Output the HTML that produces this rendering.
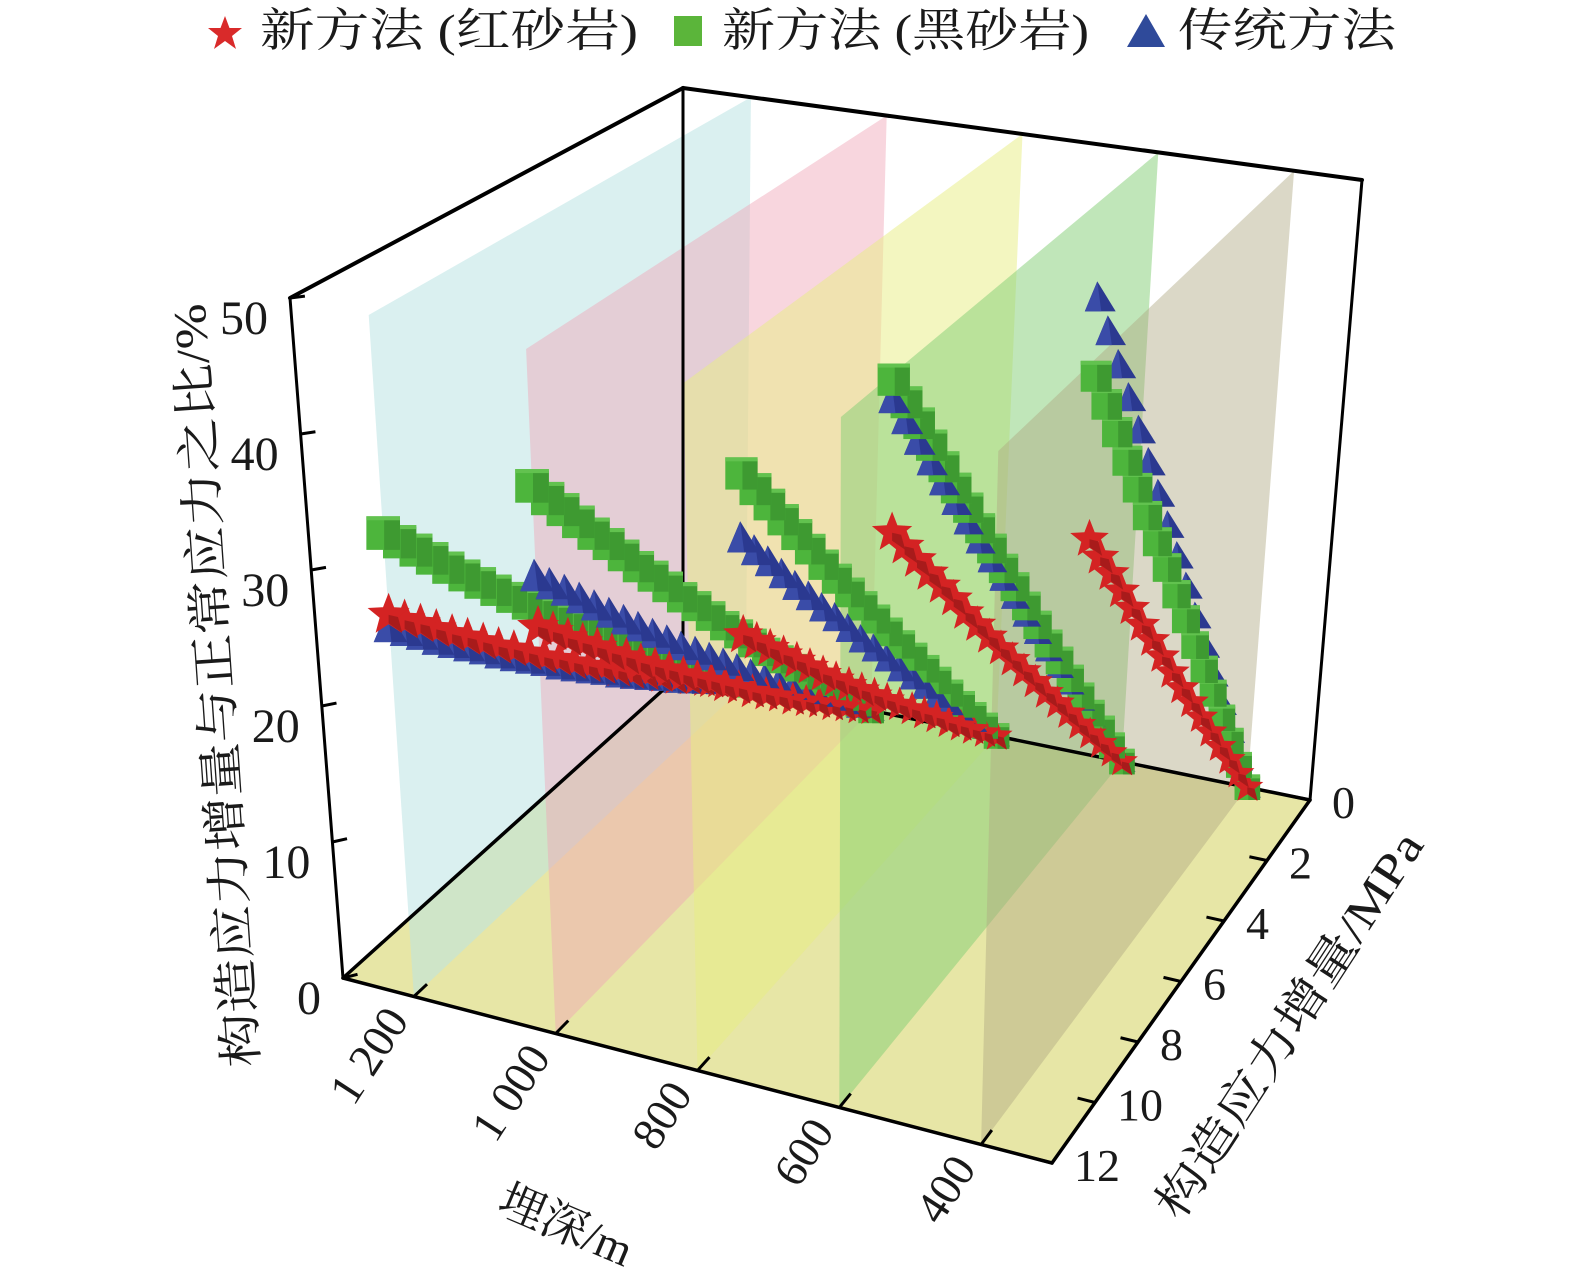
<!DOCTYPE html>
<html><head><meta charset="utf-8">
<style>
html,body{margin:0;padding:0;background:#fff;}
svg{display:block;}
text{font-family:"Liberation Serif","Noto Serif CJK SC",serif;fill:#1a1a1a;}
</style></head>
<body>
<svg id="chart" width="1575" height="1282" viewBox="0 0 1575 1282" xmlns="http://www.w3.org/2000/svg">
  <g id="floor"></g>
  <g id="curtains"></g>
  <g id="edges"></g>
  <g id="marks"></g>
  <g id="ticks"></g>
  <g id="labels"></g>
  <g>
    <polygon points="225,16 229.5,28 242,28 232,36 236,49 225,41 214,49 218,36 208,28 220.5,28" fill="#d92a2a"/>
    <text x="260" y="46" font-size="46" textLength="378" lengthAdjust="spacingAndGlyphs">新方法 (红砂岩)</text>
    <rect x="674" y="16" width="28" height="30" fill="#5bb53a"/>
    <text x="722" y="46" font-size="46" textLength="367" lengthAdjust="spacingAndGlyphs">新方法 (黑砂岩)</text>
    <polygon points="1146,14 1165,47 1127,47" fill="#2f4a9a"/>
    <text x="1178" y="46" font-size="46" textLength="218" lengthAdjust="spacingAndGlyphs">传统方法</text>
  </g>
  <text transform="translate(258,1066) rotate(-94)" font-size="46" textLength="765" lengthAdjust="spacingAndGlyphs">构造应力增量与正常应力之比/%</text>
  <text transform="translate(495,1212) rotate(23)" font-size="46">埋深/m</text>
  <text transform="translate(1180,1222) rotate(-57)" font-size="46" textLength="450" lengthAdjust="spacingAndGlyphs">构造应力增量/MPa</text>
</svg>
<script>
// ---- data ----
const sValues = [0,0.5,1,1.5,2,2.5,3,3.5,4,4.5,5,5.5,6,6.5,7,7.5,8,8.5,9,9.5,10,10.5,11,11.5,12];
const depths = [1200,1000,800,600,400];
const zTicks = [0,10,20,30,40,50];
const depthTicks = [1200,1000,800,600,400];
const depthTickLabels = ["1 200","1 000","800","600","400"];
const stressTicks = [0,2,4,6,8,10,12];

const green1200 = [0,1.4,2.8,4.3,5.7,7.1,8.5,9.9,11.3,12.8,14.2,15.6,17.0,18.4,19.8,21.3,22.7,24.1,25.5,26.9,28.3,29.8,31.2,32.6,34.0];
const red1200   = [0,1.2,2.3,3.5,4.7,5.8,7.0,8.2,9.3,10.5,11.7,12.8,14.0,15.2,16.3,17.5,18.7,19.8,21.0,22.2,23.3,24.5,25.7,26.8,28.0];
const blue1200  = [0,1.1,2.3,3.4,4.5,5.6,6.8,7.9,9.0,10.1,11.3,12.4,13.5,14.6,15.8,16.9,18.0,19.1,20.3,21.4,22.5,23.6,24.8,25.9,27.0];
const green1000 = [0,1.7,3.3,5.0,6.7,8.3,10.0,11.7,13.3,15.0,16.7,18.3,20.0,21.7,23.3,25.0,26.7,28.3,30.0,31.7,33.3,35.0,36.7,38.3,40.0];
const blue1000  = [0,1.4,2.8,4.2,5.6,6.9,8.3,9.7,11.1,12.5,13.9,15.3,16.7,18.1,19.4,20.8,22.2,23.6,25.0,26.4,27.8,29.2,30.6,31.9,33.3];
const red1000   = [0,1.2,2.5,3.7,5.0,6.2,7.4,8.7,9.9,11.1,12.4,13.6,14.9,16.1,17.3,18.6,19.8,21.0,22.3,23.5,24.8,26.0,27.2,28.5,29.7];
const green800  = [0,2.0,4.0,6.0,8.0,10.1,12.1,14.1,16.1,18.1,20.1,22.1,24.1,26.1,28.1,30.2,32.2,34.2,36.2,38.2,40.2];
const blue800   = [0,1.8,3.5,5.3,7.1,8.8,10.6,12.4,14.1,15.9,17.7,19.4,21.2,23.0,24.7,26.5,28.2,30.0,31.8,33.5,35.3];
const red800    = [0,1.4,2.8,4.2,5.6,7.1,8.5,9.9,11.3,12.7,14.1,15.5,16.9,18.3,19.7,21.2,22.6,24.0,25.4,26.8,28.2];
const green600  = [0,2.5,5.0,7.4,9.9,12.4,14.9,17.3,19.8,22.3,24.8,27.2,29.7,32.2,34.7,37.1,39.6,42.1,44.6,47.0,49.5];
const blue600   = [0,2.4,4.8,7.2,9.6,12.0,14.4,16.8,19.2,21.6,24.0,26.4,28.8,31.2,33.6,36.0,38.4,40.8,43.2,45.6,48.0];
const red600    = [0,1.9,3.8,5.7,7.6,9.6,11.5,13.4,15.3,17.2,19.1,21.0,22.9,24.8,26.7,28.7,30.6,32.5,34.4,36.3,38.2];
const green400  = [0,3.0,6.1,9.1,12.2,15.2,18.2,21.3,24.3,27.4,30.4,33.4,36.5,39.5,42.6,45.6,48.6];
const blue400   = [0,3.4,6.8,10.2,13.6,17.0,20.4,23.8,27.2,30.6,34.0,37.4,40.8,44.2,47.6,51.0,54.4];
const red400    = [0,2.3,4.6,6.8,9.1,11.4,13.7,15.9,18.2,20.5,22.8,25.0,27.3,29.6,31.9,34.1,36.4];

const NS = "http://www.w3.org/2000/svg";
function proj(d, s, z) {
  const u = (1300 - d) / 1000, v = s / 12;
  const w00 = (1-u)*(1-v), w10 = u*(1-v), w01 = (1-u)*v, w11 = u*v;
  const gx = w00*683 + w10*1310 + w01*343 + w11*1052;
  const gy = w00*672 + w10*800 + w01*978 + w11*1163;
  const ox = w00*0 + w10*52 + w01*(-53) + w11*25;
  const oy = w00*(-584) + w10*(-620) + w01*(-680) + w11*(-695);
  return [gx + ox*z/50, gy + oy*z/50];
}
function mk(tag, attrs, parent) {
  const e = document.createElementNS(NS, tag);
  for (const k in attrs) e.setAttribute(k, attrs[k]);
  parent.appendChild(e);
  return e;
}
function pts(arr) { return arr.map(p => p[0].toFixed(1)+","+p[1].toFixed(1)).join(" "); }

// floor
const floorG = document.getElementById("floor");
const fl = mk("polygon", {points: pts([proj(1300,0,0),proj(300,0,0),proj(300,12,0),proj(1300,12,0)]), fill:"#e7e6a6"}, floorG);



// curtains
const curtainColors = ["rgba(188,228,228,0.55)","rgba(240,165,182,0.45)","rgba(232,238,130,0.5)","rgba(130,205,115,0.5)","rgba(175,168,130,0.45)"];
const cg = document.getElementById("curtains");
depths.forEach((d, i) => {
  const c = mk("polygon", {points: pts([proj(d,0,0),proj(d,12,0),proj(d,12,50),proj(d,0,50)]), fill: curtainColors[i]}, cg);
  
  
});

// edges
const eg = document.getElementById("edges");
const edgeList = [
  [[1300,12,0],[1300,12,50]], [[1300,0,0],[1300,0,50]], [[300,0,0],[300,0,50]],
  [[1300,12,50],[1300,0,50]], [[1300,0,50],[300,0,50]],
  [[1300,12,0],[300,12,0]], [[300,12,0],[300,0,0]], [[300,0,0],[1300,0,0]], [[1300,0,0],[1300,12,0]]
];
edgeList.forEach((e, i) => {
  const a = proj(...e[0]), b = proj(...e[1]);
  const l = mk("line", {x1:a[0],y1:a[1],x2:b[0],y2:b[1],stroke:"#000","stroke-width": i>=5 ? 3.5 : (i<3 ? 3 : 4),"stroke-linecap":"round"}, eg);
  
  
});

// series
const series = [
  {name:"blue", d:1200, vals:blue1200},{name:"red", d:1200, vals:red1200},{name:"green", d:1200, vals:green1200},
  {name:"blue", d:1000, vals:blue1000},{name:"green", d:1000, vals:green1000},{name:"red", d:1000, vals:red1000},
  {name:"blue", d:800, vals:blue800},{name:"green", d:800, vals:green800},{name:"red", d:800, vals:red800},
  {name:"blue", d:600, vals:blue600},{name:"green", d:600, vals:green600},{name:"red", d:600, vals:red600},
  {name:"blue", d:400, vals:blue400},{name:"green", d:400, vals:green400},{name:"red", d:400, vals:red400}
];
const items = [];
series.forEach((sr, si) => {
  sr.vals.forEach((z, k) => {
    const s = sValues[k];
    const p = proj(sr.d, s, z);
    const u = (1300 - sr.d)/1000;
    items.push({p, kind: sr.name, key: s/12 + 0.25*(1-u) + si*0.0001, sc: 0.8 + 0.25*s/12});
  });
});
items.sort((a,b) => a.key - b.key);
const mg = document.getElementById("marks");
function star(cx, cy, R, r) {
  const a = [];
  for (let i = 0; i < 10; i++) {
    const ang = -Math.PI/2 + i*Math.PI/5, rad = i%2 ? r : R;
    a.push([cx + rad*Math.cos(ang), cy + rad*Math.sin(ang)]);
  }
  return a;
}
items.forEach(it => {
  const [x, y] = it.p;
  const k = it.sc;
  const g = mk("g", {}, mg);
  if (it.kind === "green") {
    
    
    const h = 16*k;
    mk("rect", {x:x-h, y:y-h, width:2*h, height:2*h, fill:"#4db53c"}, g);
    mk("rect", {x:x+1, y:y-h+2, width:h-1, height:2*h-2, fill:"#3e9a31"}, g);
    mk("rect", {x:x-h, y:y-h, width:2*h, height:4, fill:"#62c24f"}, g);
  } else if (it.kind === "red") {
    
    
    mk("polygon", {points: pts(star(x, y, 21*k, 9*k)), fill:"#d42323"}, g);
    mk("polygon", {points: pts([[x,y],[x+9*k,y+2*k],[x+13*k,y+17*k],[x,y+8*k]]), fill:"#a81b1b"}, g);
  } else {
    
    
    mk("polygon", {points: pts([[x-2,y-18*k],[x+17*k,y+13*k],[x-15*k,y+13*k]]), fill:"#2b3990"}, g);
    mk("polygon", {points: pts([[x-2,y-18*k],[x+2,y+13*k],[x-15*k,y+13*k]]), fill:"#3a4ca8"}, g);
  }
});

// ticks & labels
const tg = document.getElementById("ticks"), lg = document.getElementById("labels");
function tick(a, dir, len) {
  const n = Math.hypot(dir[0], dir[1]);
  const l = mk("line", {x1:a[0], y1:a[1], x2:a[0]+dir[0]/n*len, y2:a[1]+dir[1]/n*len, stroke:"#000","stroke-width":3}, tg);
  
  
}
zTicks.forEach(z => {
  const a = proj(1300,12,z), b = proj(1280,11.6,z);
  tick(a, [b[0]-a[0], b[1]-a[1]], 15);
  const t = mk("text", {x:a[0]-22, y:a[1]+36, "font-size":48, "text-anchor":"end"}, lg);
  t.textContent = z;
  
  
});
depthTicks.forEach((d, i) => {
  const a = proj(d,12,0), b = proj(d,11.4,0);
  tick(a, [b[0]-a[0], b[1]-a[1]], 18);
  const t = mk("text", {transform:`translate(${a[0]-4},${a[1]+24}) rotate(-57)`, "font-size":46, "text-anchor":"end"}, lg);
  t.textContent = depthTickLabels[i];
  
  
});
stressTicks.forEach(s => {
  const a = proj(300,s,0), b = proj(340,s,0);
  tick(a, [b[0]-a[0], b[1]-a[1]], 18);
  const t = mk("text", {x:a[0]+22, y:a[1]+18, "font-size":46}, lg);
  t.textContent = s;
  
  
});
</script>
</body></html>
